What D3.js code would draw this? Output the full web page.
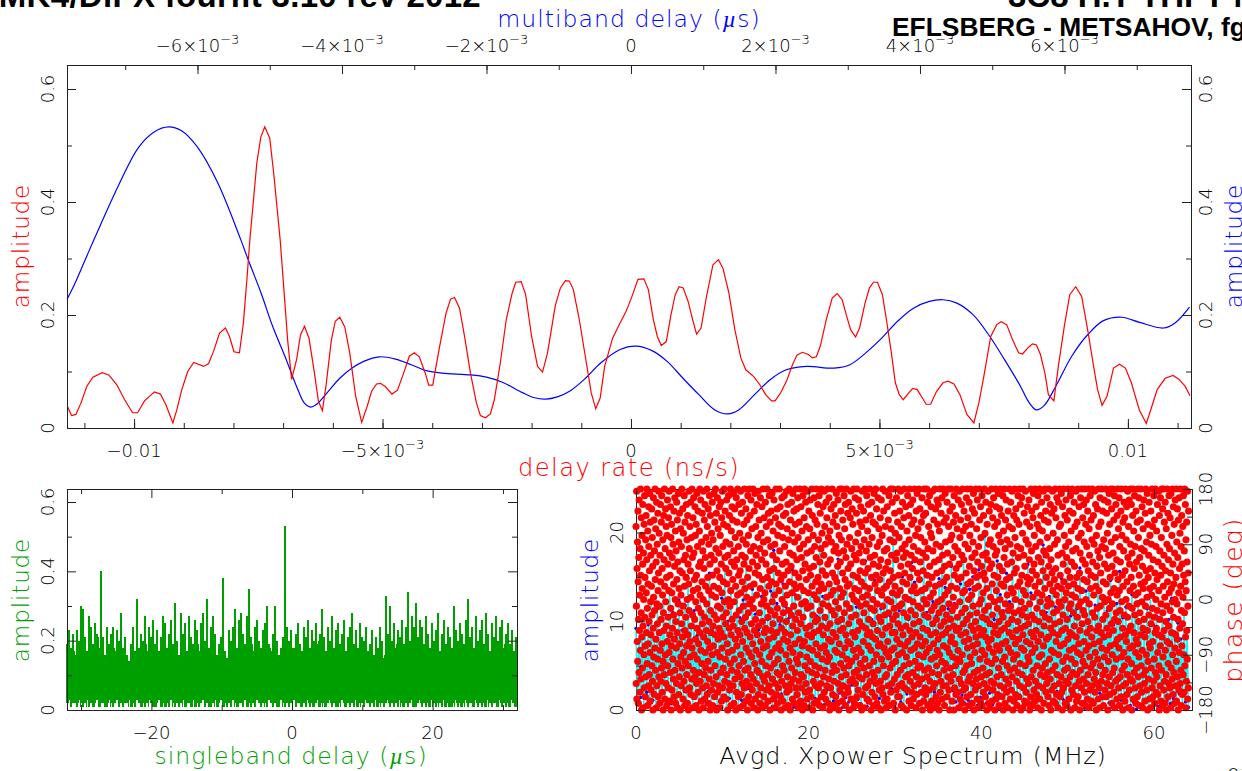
<!DOCTYPE html>
<html><head><meta charset="utf-8">
<script src="https://cdnjs.cloudflare.com/ajax/libs/d3/7.8.5/d3.min.js"></script>
<style>
html,body{margin:0;padding:0;background:#fff;overflow:hidden}
svg{display:block}
text{font-family:"DejaVu Sans",sans-serif;font-weight:200}
.title{font-family:"Liberation Sans",Arial,sans-serif;font-weight:700;fill:#000}
.mu{font-family:"Liberation Serif",serif;font-style:italic;font-weight:400}
</style></head><body>
<svg id="c" width="1242" height="771"></svg>
<script>
// Delay-rate amplitude (rate in 1e-3 ns/s)
const rateX=[-11.34,-11.26,-11.17,-11.07,-10.95,-10.83,-10.64,-10.51,-10.35,-10.19,-10.03,-9.93,-9.79,-9.59,-9.47,-9.36,-9.22,-9.14,-9.04,-8.92,-8.8,-8.6,-8.5,-8.4,-8.28,-8.16,-8.08,-7.99,-7.88,-7.8,-7.72,-7.67,-7.53,-7.45,-7.37,-7.27,-7.19,-7.06,-7,-6.91,-6.83,-6.73,-6.65,-6.57,-6.48,-6.37,-6.29,-6.21,-6.13,-6.03,-5.95,-5.86,-5.76,-5.66,-5.54,-5.42,-5.31,-5.22,-5.12,-5.04,-4.94,-4.81,-4.7,-4.6,-4.46,-4.36,-4.26,-4.14,-4.07,-3.99,-3.85,-3.72,-3.63,-3.55,-3.45,-3.35,-3.23,-3.11,-3.03,-2.93,-2.83,-2.75,-2.63,-2.51,-2.39,-2.32,-2.21,-2.12,-2,-1.88,-1.78,-1.68,-1.52,-1.42,-1.32,-1.24,-1.16,-1.04,-.92,-.8,-.71,-.62,-.53,-.37,-.22,-.1,.02,.14,.26,.35,.45,.53,.61,.71,.8,.89,.97,1.05,1.15,1.24,1.32,1.41,1.52,1.65,1.76,1.85,1.97,2.09,2.21,2.31,2.47,2.59,2.71,2.83,2.9,3.01,3.13,3.25,3.34,3.45,3.57,3.65,3.73,3.81,3.93,4.05,4.15,4.25,4.34,4.42,4.52,4.6,4.71,4.8,4.88,4.96,5.06,5.14,5.24,5.32,5.4,5.48,5.59,5.67,5.76,5.88,5.94,6.03,6.15,6.28,6.38,6.5,6.62,6.76,6.9,7,7.1,7.24,7.36,7.45,7.56,7.68,7.8,7.88,8,8.08,8.16,8.24,8.33,8.4,8.51,8.6,8.72,8.83,8.95,9.07,9.19,9.31,9.39,9.48,9.58,9.71,9.83,9.95,10.07,10.23,10.37,10.47,10.59,10.75,10.91,11.03,11.15,11.25];
const rateAmp=[.038,.022,.024,.044,.074,.09,.098,.094,.077,.05,.027,.027,.048,.064,.06,.041,.009,.032,.068,.1,.116,.109,.114,.136,.168,.177,.162,.135,.133,.186,.274,.333,.469,.515,.533,.513,.451,.333,.263,.156,.086,.121,.165,.18,.159,.097,.047,.031,.08,.156,.189,.196,.179,.133,.056,.01,.038,.065,.078,.079,.073,.06,.067,.091,.127,.133,.126,.097,.076,.076,.145,.204,.228,.231,.212,.162,.097,.044,.022,.018,.025,.05,.115,.192,.239,.258,.259,.236,.162,.109,.099,.133,.218,.248,.261,.26,.245,.192,.127,.062,.034,.053,.109,.159,.186,.206,.233,.263,.264,.245,.192,.162,.146,.153,.198,.236,.25,.248,.224,.192,.166,.177,.233,.289,.298,.283,.239,.174,.124,.103,.091,.077,.059,.048,.048,.062,.083,.112,.129,.134,.13,.124,.126,.145,.192,.23,.238,.227,.198,.174,.161,.177,.221,.248,.258,.258,.236,.192,.133,.08,.059,.05,.062,.07,.068,.051,.042,.042,.065,.08,.083,.078,.059,.024,.009,.044,.091,.162,.183,.188,.183,.156,.133,.131,.143,.149,.147,.13,.097,.059,.048,.109,.18,.236,.25,.233,.174,.109,.068,.04,.056,.106,.113,.106,.08,.032,.008,.035,.068,.088,.093,.086,.074,.057];
// Multiband delay amplitude (delay in 1e-3 us)
const mbdX=[-7.805,-7.7,-7.56,-7.42,-7.09,-6.82,-6.6,-6.4,-6.22,-6,-5.72,-5.4,-5.29,-5.12,-4.96,-4.79,-4.63,-4.52,-4.44,-4.36,-4.19,-4.03,-3.86,-3.7,-3.48,-3.26,-3.04,-2.82,-2.61,-2.22,-2,-1.78,-1.51,-1.35,-1.18,-1.02,-.85,-.63,-.42,-.15,.07,.29,.5,.72,.94,1.16,1.34,1.49,1.71,1.93,2.15,2.43,2.81,3.03,3.25,3.47,3.69,3.91,4.13,4.32,4.51,4.73,4.95,5.17,5.39,5.5,5.61,5.72,5.88,6.1,6.32,6.54,6.79,7.04,7.37,7.53,7.73];
const mbdAmp=[.228,.255,.296,.337,.43,.496,.524,.533,.526,.497,.434,.333,.295,.239,.18,.127,.074,.044,.037,.041,.065,.088,.106,.118,.126,.122,.112,.101,.097,.094,.09,.081,.063,.054,.051,.055,.065,.088,.115,.139,.145,.137,.118,.088,.059,.032,.025,.032,.059,.086,.103,.109,.106,.112,.133,.159,.189,.212,.224,.227,.221,.201,.165,.121,.074,.047,.032,.04,.074,.127,.165,.19,.196,.187,.177,.186,.214];
// Singleband delay, in hundredths of amplitude: spike tops, in-between tops, troughs
const sbdPeak=[19,23,18,22,16,23,20,30,29,21,17,27,24,19,25,22,18,40,21,16,24,19,22,24,17,
23,20,28,18,21,16,14,19,24,17,32,18,22,20,27,17,24,21,26,19,23,17,21,27,25,
18,22,26,19,31,20,16,28,22,25,17,27,21,19,26,23,17,25,28,20,32,18,24,27,22,
16,19,21,38,17,15,23,20,24,29,18,26,28,22,19,27,35,21,17,24,26,20,18,23,25,
30,19,17,22,30,20,16,18,21,53,24,20,23,18,22,25,19,17,24,21,26,18,23,20,25,
19,22,29,21,17,24,20,27,18,23,25,19,22,26,17,21,24,28,19,23,18,25,21,20,24,
17,19,23,16,21,18,24,20,15,33,22,30,20,25,18,23,21,26,19,24,34,20,27,24,31,
21,26,24,19,27,22,18,25,20,23,28,17,22,26,19,24,21,18,30,23,20,25,22,19,26,
32,21,24,18,27,20,23,26,19,28,22,17,25,21,27,20,24,26,18,22,25,19,23,17,21];
const sbdBand=[16,18,15,17,19,14,18,16,20,15,17,13,19,16,18,21,14,17,15,19,16,20,14,18,17,
15,19,13,17,16,14,15,13,16,18,15,20,14,17,19,16,15,18,13,20,17,15,19,14,16,
18,13,17,20,15,16,14,19,17,15,21,14,18,16,13,19,15,17,20,14,16,18,13,17,15,
14,16,18,15,13,14,17,15,19,16,20,14,18,13,17,15,16,19,14,18,15,17,20,13,16,
14,18,15,17,13,16,14,15,19,17,13,16,18,15,20,14,17,15,19,16,13,18,14,17,15,
20,13,16,18,15,19,14,17,13,16,18,15,21,14,17,19,13,16,15,18,14,17,20,13,16,
15,14,13,16,15,14,17,13,16,15,18,14,17,13,19,15,16,14,18,15,13,17,15,19,14,
16,13,18,15,20,14,17,13,16,19,15,14,18,13,17,15,20,14,16,18,13,17,15,19,14,
17,15,13,18,14,16,19,15,17,13,20,14,16,18,15,13,17,14,19,16,15,18,13,17,16];
const sbdLow=[2,3,1,2,2,1,3,2,1,2,3,1,2,1,2,3,1,2,2,1,1,3,2,1,2,
3,1,2,1,2,2,3,1,2,1,3,2,1,2,1,2,3,2,1,1,2,3,1,2,1,
2,1,3,2,1,2,1,2,3,1,2,2,1,3,1,2,1,2,3,1,2,1,1,2,3,
1,2,3,1,2,1,2,1,3,2,1,2,2,1,3,1,2,1,2,1,3,2,1,2,2,
1,3,2,1,2,1,1,3,2,1,2,1,2,3,1,2,2,1,2,1,3,1,2,1,2,
3,1,2,2,1,2,3,1,2,1,1,2,3,2,1,2,1,2,1,3,1,2,2,1,3,
2,1,2,1,3,1,2,2,1,2,3,1,2,1,2,1,3,2,1,2,1,2,3,1,1,
2,3,1,2,1,2,1,3,2,1,2,2,1,3,1,2,1,1,2,3,1,2,1,2,3,
1,2,2,1,3,1,2,1,2,1,3,2,1,2,2,1,3,1,2,1,2,1,3,2,1];
// Cross-power amplitude: high / low sample per channel step, in tenths
const xpHigh=[92,78,101,85,96,122,80,114,88,128,94,135,110,82,124,90,118,148,96,112,84,130,98,120,154,92,116,88,126,162,100,132,94,140,104,124,172,98,136,108,
90,128,148,102,134,180,120,96,142,116,104,158,130,100,138,124,94,150,132,106,192,128,102,144,112,136,170,104,130,140,98,152,116,134,108,168,138,102,146,118,
114,156,122,106,200,140,112,150,124,102,166,144,118,136,178,110,152,122,106,148,184,138,114,162,120,104,142,172,116,136,150,108,158,124,196,118,144,102,168,130,
112,154,122,176,108,146,136,114,164,132,104,152,120,186,110,128,158,116,100,148,122,170,106,140,114,160,98,134,150,108,118,174,102,128,112,146,96,120,156,104,
116,94,130,108,122,100,88,114,134,96,106,84,118,92,102,126,88,98,80,110,90];
const xpLow=[8,14,3,20,6,11,2,17,9,4,23,7,13,1,18,5,10,25,3,15,8,12,2,21,6,16,4,9,27,1,13,7,19,3,11,5,24,8,14,2,
17,6,10,22,4,12,1,18,9,5,26,3,15,7,11,2,20,8,13,4,16,6,23,1,10,5,19,3,14,9,28,2,12,7,17,4,8,21,5,13,
1,11,6,24,3,16,9,2,18,7,12,4,27,1,15,8,5,20,3,10,6,13,2,22,9,4,17,7,11,1,25,5,14,3,8,19,6,12,2,16,
4,10,23,1,7,13,5,18,3,9,26,2,11,6,15,4,8,21,1,12,7,3,17,5,10,24,2,14,6,9,1,19,4,13,8,3,22,7,11,2,
16,5,9,1,20,6,12,3,15,8,4,25,2,10,7,13,1,18,5,9,3];
// Cross-power phase per channel, as percent of the -180..180 deg range
const phasePct=[
83,12,47,99,5,64,31,76,22,90,58,3,41,69,17,95,36,52,8,73,27,100,61,14,44,87,0,33,79,55,
19,66,93,38,1,71,50,25,84,10,97,42,60,29,6,77,15,88,53,35,68,100,21,46,2,81,57,30,11,92,
74,40,16,63,98,26,4,85,49,70,34,9,56,91,20,43,78,13,65,0,37,96,51,24,86,7,72,45,28,100,
59,18,82,32,67,1,94,48,11,75,39,23,89,54,6,62,99,15,80,35,47,3,70,27,93,58,13,41,85,19,
97,30,64,8,52,77,22,0,44,88,36,68,16,100,56,5,73,25,91,49,12,83,38,60,2,79,31,95,20,66,
42,10,87,54,26,99,71,4,34,61,17,92,46,78,0,29,84,53,9,69,37,100,23,75,14,57,43,90,6,32,
65,96,18,50,81,3,40,72,28,12,94,59,35,86,1,67,21,48,98,7,76,55,15,89,30,63,44,0,82,24,
52,11,74,39,100,19,62,33,91,5,47,80,26,68,13,97,56,2,36,85,22,70,42,9,60,93,29,16,77,50,
3,88,34,66,20,0,57,99,45,73,10,31,83,24,63,94,7,51,38,78,14,100,28,69,43,1,87,54,18,96,
71,25,6,59,41,92,15,79,32,49,2,84,61,12,98,37,23,74,55,8,90,46,30,65,0,17,81,35,100,52,
13,67,95,27,44,4,76,21,58,89,39,10,72,50,1,99,33,64,16,86,42,5,93,26,69,56,19,78,36,11,
48,100,7,83,31,60,22,91,3,54,75,40,14,97,28,66,0,88,45,18,70,35,9,80,52,25,94,61,2,38,
77,29,12,56,98,43,68,6,85,20,34,100,51,73,15,89,0,41,63,26,96,8,47,82,32,55,11,71,37,92,
1,60,24,79,46,17,94,35,66,4,87,53,28,99,10,74,42,19,58,84,6,33,100,49,13,69,90,23,39,64,
76,5,44,95,16,57,30,83,0,70,26,50,97,12,62,37,88,9,47,75,21,100,54,2,34,81,67,18,92,41,
27,86,59,11,38,98,72,3,49,23,65,91,14,78,32,56,0,43,96,8,68,29,85,17,52,100,36,6,74,61,
93,20,45,1,80,34,63,15,99,25,53,7,89,40,70,12,58,94,31,77,2,47,22,84,66,10,100,37,55,18,
69,42,4,91,28,75,13,51,86,35,0,60,97,19,44,79,6,26,64,100,48,11,88,33,56,72,16,95,3,39,
24,82,50,9,67,30,100,14,46,74,1,57,90,36,21,98,62,5,41,83,27,70,12,52,93,18,34,65,0,78,
99,7,38,61,17,86,44,25,73,3,55,96,31,10,80,48,68,22,92,1,40,59,15,100,28,76,6,50,87,35,
13,71,53,2,94,37,20,66,83,9,47,29,100,60,16,77,42,4,89,32,56,11,97,24,63,0,85,45,19,74,
36,90,8,58,26,98,49,14,70,39,81,5,33,64,95,21,52,1,75,43,12,87,28,100,57,7,68,35,17,91,
46,3,79,23,62,10,84,54,30,100,16,72,41,92,6,27,59,0,83,37,13,96,50,66,20,78,4,44,88,32,
61,18,97,48,74,1,35,56,11,89,25,67,40,99,8,52,82,15,31,93,63,2,77,45,22,100,9,58,71,28,
0,86,34,12,65,43,94,19,53,80,5,38,98,26,70,14,47,90,57,3,76,30,62,17,84,41,100,10,55,23,
91,68,7,36,51,96,21,78,1,44,60,13,85,32,73,100,25,4,56,39,92,16,69,48,10,81,29,0,63,97,
42,15,75,54,2,87,31,100,20,66,8,49,94,37,12,59,83,24,71,5,46,99,34,18,77,53,28,90,1,64,
9,82,38,95,22,61,47,6,72,33,100,17,56,88,27,0,43,79,13,65,35,96,52,3,74,20,86,40,11,58,
30,69,100,16,50,84,4,41,25,93,60,10,77,36,54,97,19,2,67,45,89,28,12,73,57,100,6,38,80,23,
63,1,48,92,34,15,70,55,99,8,29,83,42,18,75,5,61,94,26,51,11,87,37,100,22,66,3,47,78,32,
14,96,57,24,0,81,39,68,10,52,91,31,76,2,45,17,100,62,7,85,35,54,20,93,72,13,43,1,60,27,
88,49,6,74,33,98,18,58,83,26,3,65,40,95,12,71,46,0,79,30,55,100,9,36,67,21,90,51,15,77,
41,100,25,4,62,86,37,11,53,72,19,97,44,7,82,28,59,93,2,34,69,16,48,100,23,75,56,10,89,31,
64,8,94,39,20,57,0,78,46,13,87,30,66,99,5,42,22,73,52,91,14,35,84,61,1,27,100,50,17,70,
3,55,33,96,12,76,43,24,68,89,6,49,100,18,60,36,80,9,28,95,54,15,71,40,2,85,63,21,47,92,
74,26,58,0,83,38,14,99,51,7,67,31,90,19,44,77,1,56,100,23,62,10,37,86,48,72,16,97,5,34,
52,81,11,64,29,93,41,4,75,20,55,100,35,69,13,88,46,27,0,60,94,8,78,33,17,50,85,39,66,2,
22,98,45,15,70,6,57,84,32,100,12,61,25,91,3,48,74,36,54,18,96,29,1,65,82,42,9,76,59,30,
87,13,68,40,0,95,23,52,10,79,34,100,47,7,62,20,90,55,28,72,4,43,99,15,83,37,64,26,1,56,
16,73,5,92,50,31,67,11,86,44,24,97,58,2,38,77,19,63,100,8,49,82,27,70,12,35,94,53,21,41,
100,60,3,76,28,46,14,89,35,56,0,80,22,68,43,9,96,32,71,16,52,85,6,39,100,25,61,11,78,47,
6,90,30,54,18,99,65,37,2,83,48,12,73,26,94,58,34,1,69,44,87,20,100,10,62,29,75,51,15,92,
38,71,24,0,57,81,9,42,97,31,16,66,50,88,4,77,21,100,36,60,13,93,45,27,70,2,54,84,33,8,
64,17,95,49,5,74,39,86,11,56,28,100,68,22,43,79,1,35,90,15,53,7,98,30,62,19,82,47,72,25,
12,100,40,59,3,91,33,67,20,78,46,8,85,54,14,96,29,0,71,37,63,24,88,4,50,100,18,43,76,10,
55,31,89,7,69,26,48,100,15,61,36,94,2,73,42,19,83,57,9,28,97,65,13,51,0,80,34,92,23,45,
78,4,60,17,99,39,72,10,53,30,86,1,47,67,24,100,12,56,91,35,6,75,41,20,62,95,27,3,84,49,
32,93,16,68,44,0,81,25,100,57,8,74,38,13,89,50,63,22,96,5,34,70,46,11,100,29,58,85,18,40,
2,65,52,98,21,76,35,11,87,43,60,6,94,28,71,15,54,100,37,83,9,48,26,66,0,90,19,77,41,31,
100,13,56,33,79,4,45,92,24,69,16,51,85,38,0,97,61,10,74,30,47,20,88,7,64,36,100,55,23,82,
42,8,72,27,95,59,1,37,66,14,99,49,78,22,5,86,34,60,12,93,44,70,3,25,100,53,17,81,39,9,
68,90,31,18,54,0,75,46,10,83,35,62,96,20,41,6,100,28,57,87,13,73,50,2,32,94,65,15,79,43,
24,58,100,7,38,84,21,52,69,3,91,29,12,76,47,98,36,0,63,17,89,55,26,71,9,40,100,33,60,14,
82,44,5,95,30,67,18,1,56,74,37,11,100,48,86,23,61,4,92,34,78,50,15,65,27,97,2,42,70,19,
53,8,88,36,62,12,100,45,25,80,59,6,33,94,16,71,41,0,55,84,22,10,68,99,31,47,75,3,28,90,
17,64,39,1,77,51,93,13,32,100,21,66,4,57,43,87,9,74,26,96,35,61,12,49,83,0,38,70,23,100,
5,92,54,29,72,15,46,85,7,60,34,98,19,79,2,40,65,27,91,50,11,100,76,36,57,16,88,44,6,30,
63,22,97,42,0,81,56,10,69,37,100,24,3,73,48,86,14,31,95,59,8,77,20,52,66,1,39,90,28,45,
12,83,35,100,60,18,75,5,47,94,26,55,9,67,41,99,15,82,33,0,71,53,23,88,4,44,62,100,19,78,
30,50,7,91,36,64,13,86,25,2,74,56,40,97,17,69,32,6,84,45,100,11,58,21,93,37,73,0,49,28,
96,61,16,43,80,1,34,100,54,10,70,27,89,46,4,65,38,20,99,52,77,8,31,85,14,60,42,92,3,24,
57,75,12,39,95,22,68,48,0,83,30,59,6,100,35,15,72,90,43,26,63,2,51,87,18,98,33,9,66,79,
41,4,56,28,100,13,74,36,92,61,7,46,20,84,53,1,97,31,69,11,40,82,24,58,100,5,76,49,16,88,
34,67,0,94,25,52,19,81,44,10,63,99,29,72,3,38,86,15,55,100,42,21,90,8,70,60,32,12,96,47,
78,17,50,6,85,33,65,2,100,41,23,73,57,14,93,37,0,68,48,27,89,9,62,18,99,54,35,80,4,44,
26,91,11,59,75,39,100,20,3,64,87,31,52,7,96,45,16,77,56,1,70,34,94,25,49,12,83,100,40,6,
61,29,84,47,15,98,55,8,36,71,0,92,22,43,66,10,100,58,30,79,18,50,88,3,37,74,13,95,53,24,
69,2,41,86,19,63,32,100,12,56,76,5,46,27,90,35,60,15,97,48,0,81,23,67,9,52,100,34,72,17,
89,44,7,57,28,94,38,65,1,83,21,51,11,99,73,33,4,60,16,85,42,26,100,55,6,78,47,30,92,13,
62,0,36,71,18,96,49,25,80,10,54,100,39,3,68,87,22,45,14,93,59,31,76,8,43,100,20,66,2,84,
50,27,95,12,74,35,58,5,90,40,16,63,100,29,1,82,48,70,24,9,97,37,55,19,86,61,4,33,77,11,
100,44,67,21,3,88,52,30,75,14,99,42,8,60,26,93,17,56,0,79,36,65,12,46,91,23,72,100,5,38,
83,54,10,31,69,1,96,47,20,62,85,35,13,100,28,74,6,51,90,41,16,58,2,77,33,95,24,66,49,9,
18,73,100,43,6,57,89,27,37,12,80,64,0,94,50,22,70,34,98,15,46,84,7,60,29,100,53,11,76,39,
91,3,65,25,48,17,100,71,36,8,86,55,19,97,41,1,62,30,78,13,93,44,23,68,5,52,88,32,100,14,
59,40,82,10,28,96,54,2,74,45,15,67,33,90,6,100,24,49,79,18,61,37,0,85,56,11,72,26,94,43,
20,87,4,63,34,100,12,50,77,31,92,7,58,16,42,99,69,23,1,83,47,36,95,9,66,28,54,100,14,75,
38,60,93,21,0,71,46,13,88,29,100,5,56,81,35,17,64,97,43,10,74,52,26,3,90,32,67,19,48,85,
6,100,30,53,15,78,40,96,24,61,2,69,44,11,86,34,57,100,20,73,8,49,92,27,65,1,37,82,55,16,
95,41,72,12,58,4,33,89,47,18,100,63,25,76,9,51,98,36,0,84,22,60,14,70,43,94,30,5,55,79,
28,64,1,90,39,19,75,52,100,10,46,83,31,6,68,56,13,97,42,23,86,3,62,35,100,17,50,74,8,37,
81,15,59,45,93,26,7,67,34,99,54,20,0,88,41,72,11,29,96,61,4,48,78,18,100,33,65,2,91,44,
24,56,100,9,70,36,85,13,51,3,94,27,63,40,16,82,0,47,75,31,100,58,6,89,21,68,38,12,97,53,
73,30,10,87,45,62,1,98,19,55,35,79,14,100,49,25,66,7,92,42,57,17,84,3,71,28,50,95,11,34,
60,100,22,4,76,48,32,91,15,69,41,0,86,53,9,96,26,64,37,80,12,100,56,18,74,2,45,88,29,66,
7,39,83,51,16,97,61,25,8,72,44,100,20,58,93,33,1,77,54,13,85,36,67,23,99,5,47,62,10,90
];
const cats={
 topTicks:[-6,-4,-2,0,2,4,6],
 botTicks:[-10,-5,0,5,10]
};
const title1="MK4/DiFX fourfit 3.10 rev 2012", title2="3C8 H.T THFT Mg", title3="EFLSBERG - METSAHOV, fg";

const RED="#ff0000",BLUE="#0000ff",GREEN="#009f00",CYAN="#00ffff",INK="#000";
const svg=d3.select("#c");

// ---- scales
const p1={l:67,r:1191,t:65,b:428}, p2={l:67,r:517,t:489,b:710}, p3={l:636,r:1192,t:489,b:710};
const xRate=d3.scaleLinear().domain([-11.35,11.27]).range([p1.l,p1.r]);
const xMbd=d3.scaleLinear().domain([-7.806,7.751]).range([p1.l,p1.r]);
const yAmp1=d3.scaleLinear().domain([0,.6425]).range([p1.b,p1.t]);
const xSbd=d3.scaleLinear().domain([-32,32]).range([p2.l,p2.r]);
const yAmp2=d3.scaleLinear().domain([0,.6375]).range([p2.b,p2.t]);
const xFreq=d3.scaleLinear().domain([0,64.4]).range([p3.l,p3.r]);
const yXp=d3.scaleLinear().domain([0,24.9]).range([p3.b,p3.t]);
const yPhase=d3.scaleLinear().domain([-180,180]).range([p3.b,p3.t]);

const sup=(m,e)=>`${m}×10<tspan dy="-8" font-size="13">${e}</tspan>`;

// generic axis helper: minor + major ticks with inward marks
function axis(kind,scale,y0,major,minor,len,fmt,opts={}){
  const gen={bottom:d3.axisBottom,top:d3.axisTop,left:d3.axisLeft,right:d3.axisRight}[kind];
  const g=svg.append("g").attr("transform",(kind==="bottom"||kind==="top")?`translate(0,${y0})`:`translate(${y0},0)`);
  g.append("g").call(gen(scale).tickValues(minor).tickSize(-len[1]).tickFormat(""));
  g.append("g").call(gen(scale).tickValues(major).tickSize(-len[0]).tickFormat(""));
  g.selectAll(".domain").remove();
  g.selectAll("line").attr("stroke","#222").attr("stroke-width",1);
  g.selectAll("text").remove();
  major.forEach(v=>{
    if(opts.hide)return;
    const p=scale(v), t=g.append("text").attr("fill",INK).attr("font-size",opts.size||18).attr("text-anchor","middle").html(fmt(v));
    if(kind==="bottom"||kind==="top") t.attr("x",p).attr("y",opts.off);
    else t.attr("transform",`translate(${opts.off},${p}) rotate(-90)`);
  });
  return g;
}
const lab=(txt,x,y,col,rotate,size=23,ls=.9)=>{
  const t=svg.append("text").attr("fill",col).attr("font-size",size).attr("text-anchor","middle").attr("letter-spacing",ls+"px").html(txt);
  t.attr("transform",`translate(${x},${y})`+(rotate?" rotate(-90)":""));
  return t;
};
const frame=p=>svg.append("rect").attr("x",p.l+.5).attr("y",p.t+.5).attr("width",p.r-p.l).attr("height",p.b-p.t).attr("fill","none").attr("stroke","#222").attr("stroke-width",1);

// ---- titles
svg.append("text").attr("class","title").attr("font-size",33).attr("letter-spacing",".3px").attr("text-anchor","end").attr("x",481).attr("y",7).text(title1);
svg.append("text").attr("class","title").attr("font-size",33).attr("x",1008).attr("y",7).text(title2);
svg.append("text").attr("class","title").attr("font-size",26.4).attr("x",892).attr("y",36).text(title3);
svg.append("text").attr("fill",INK).attr("font-size",20).attr("x",1227).attr("y",782).text("03");

// ---- panel 1
const rateLine=d3.line().x((d,i)=>xRate(rateX[i])).y(d=>yAmp1(d));
const mbdLine=d3.line().curve(d3.curveCatmullRom.alpha(.5)).x((d,i)=>xMbd(mbdX[i])).y(d=>yAmp1(d));
svg.append("path").datum(mbdAmp).attr("d",mbdLine).attr("fill","none").attr("stroke",BLUE).attr("stroke-width",1.2);
svg.append("path").datum(rateAmp).attr("d",rateLine).attr("fill","none").attr("stroke",RED).attr("stroke-width",1.2);
frame(p1);
const r=(a,b,s=1)=>d3.range(a,b+1e-9,s);
const numAmp=v=>v===0?"0":d3.format(".1f")(v);
axis("left",yAmp1,p1.l,[0,.2,.4,.6],[.1,.3,.5],[9,5],numAmp,{off:-13});
axis("right",yAmp1,p1.r,[0,.2,.4,.6],[.1,.3,.5],[9,5],numAmp,{off:21});
axis("bottom",xRate,p1.b,cats.botTicks,r(-11,11),[9,5],v=>v===0?"0":Math.abs(v)===10?(v<0?"−0.01":"0.01"):(v<0?sup("−5","−3"):sup("5","−3")),{off:29});
axis("top",xMbd,p1.t,cats.topTicks,r(-7,7),[9,5],v=>v===0?"0":sup((v<0?"−":"")+Math.abs(v),"−3"),{off:-13});
lab('multiband delay (<tspan class="mu">µ</tspan>s)',629,27,BLUE,false,23.6,1);
lab("delay rate (ns/s)",629,476,RED,false,24.2,1.4);
lab("amplitude",29,246,RED,true);
lab("amplitude",1242,246,BLUE,true);

// ---- panel 2: one vertical stroke per lag step; spike strokes are wider
const sbdSeq=[];
sbdPeak.forEach((v,i)=>{sbdSeq.push({t:v/100,b:sbdLow[i]/100,w:2});sbdSeq.push({t:sbdBand[i]/100,b:sbdLow[(i+7)%225]/100,w:1});});
const sbdPos=i=>xSbd(-32+64*i/(sbdSeq.length-1));
svg.append("g").attr("shape-rendering","crispEdges").selectAll("line").data(sbdSeq).join("line")
  .attr("x1",(d,i)=>sbdPos(i)).attr("x2",(d,i)=>sbdPos(i)).attr("y1",d=>yAmp2(d.b)).attr("y2",d=>yAmp2(d.t))
  .attr("stroke",GREEN).attr("stroke-width",d=>d.w);
frame(p2);
axis("left",yAmp2,p2.l,[0,.2,.4,.6],[.1,.3,.5],[9,5],numAmp,{off:-13});
axis("right",yAmp2,p2.r,[0,.2,.4,.6],[.1,.3,.5],[9,5],()=>"",{hide:true});
axis("bottom",xSbd,p2.b,[-20,0,20],[-30,-10,10,30],[9,5],v=>v<0?"−"+(-v):""+v,{off:29});
axis("top",xSbd,p2.t,[-20,0,20],[-30,-10,10,30],[9,5],()=>"",{hide:true});
lab('singleband delay (<tspan class="mu">µ</tspan>s)',291,764,GREEN,false,23.6,1);
lab("amplitude",29,600,GREEN,true);

// ---- panel 3
frame(p3);
const xpSeq=[];
xpHigh.forEach((v,i)=>{xpSeq.push(v/10);xpSeq.push(xpLow[i]/10);});
const xpX=i=>xFreq(64*i/(xpSeq.length-1));
svg.append("path").datum(xpSeq).attr("d",d3.line().x((d,i)=>xpX(i)).y(d=>yXp(d))).attr("fill","none").attr("stroke",CYAN).attr("stroke-width",1.6);
svg.append("g").selectAll("circle").data(xpSeq).join("circle").attr("cx",(d,i)=>xpX(i)).attr("cy",d=>yXp(d)).attr("r",1.7).attr("fill",BLUE);
svg.append("g").selectAll("circle").data(phasePct).join("circle")
  .attr("cx",(d,i)=>xFreq(64*i/(phasePct.length-1)))
  .attr("cy",d=>yPhase(-180+3.6*d)).attr("r",3.55).attr("fill",RED);
axis("left",yXp,p3.l,[0,10,20],[5,15],[9,5],v=>""+v,{off:-13});
axis("right",yPhase,p3.r,[-180,-90,0,90,180],[-135,-45,45,135],[9,5],v=>v<0?"−"+(-v):""+v,{off:20});
axis("bottom",xFreq,p3.b,[0,20,40,60],[10,30,50],[9,5],v=>""+v,{off:29});
axis("top",xFreq,p3.t,[0,20,40,60],[10,30,50],[9,5],()=>"",{hide:true});
lab("amplitude",598,600,BLUE,true);
lab("Avgd. Xpower Spectrum (MHz)",913,764,INK,false,23.8,.9);
lab("phase (deg)",1242,600,RED,true,25,1.5);
</script></body></html>
